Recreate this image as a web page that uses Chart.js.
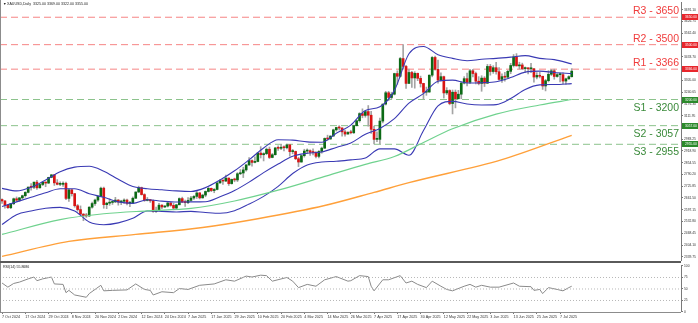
<!DOCTYPE html>
<html>
<head>
<meta charset="utf-8">
<script src="https://cdn.jsdelivr.net/npm/chart.js@4"></script>
<style>
  html, body { margin: 0; padding: 0; background: #fff; }
  #wrap { position: relative; width: 698px; height: 323px; }
  #main { position: absolute; left: 0; top: 0; }
  #rsi { position: absolute; left: 0; top: 263px; }
</style>
</head>
<body>
<div id="wrap">
  <canvas id="main" width="698" height="263"></canvas>
  <canvas id="rsi" width="698" height="60"></canvas>
</div>
<script>
// daily candles, bar 0 = 7 Oct 2024
const opens = [
  2653,2645,2622,2608,2630, 2657,2649,2662,2674,2692, 2721,2720,2748,2717,2735, 2747,2743,2774,2788,2744,
  2736,2736,2742,2659,2706, 2685,2619,2598,2573,2565, 2563,2611,2631,2650,2670, 2715,2625,2633,2637,2640,
  2650,2639,2643,2650,2632, 2633,2660,2694,2718,2680, 2648,2652,2646,2587,2594, 2622,2612,2617,2634, 2621,2606,2624,2658,
  2639,2636,2648,2661,2670, 2689,2662,2677,2697,2714, 2702,2708,2744,2755,2754, 2770,2740,2763,2760,2794,
  2798,2815,2842,2866,2856, 2861,2907,2898,2904,2928, 2883,2898,2935,2933,2939, 2936,2952,2915,2916,2876,
  2858,2893,2918,2920,2911, 2910,2889,2916,2934,2987, 2984,3000,3034,3047,3044, 3023,3011,3020,3018,3057,
  3084,3123,3113,3134,3114, 3037,2982,2982,3082,3175, 3237,3211,3229,3342, 3327,3424,3381,3288,3348,
  3318,3343,3316,3288,3240, 3241,3333,3430,3365,3306, 3325,3236,3249,3178,3240, 3204,3229,3290,3314,3294,
  3357,3342,3300,3288,3317, 3289,3381,3353,3374,3352, 3310,3325,3322,3354,3386, 3433,3384,3389,3369,3369,
  3368,3368,3323,3332,3327, 3274,3303,3338,3357,3326, 3336,3336,3301,3313,3325
];
const highs = [
  2657,2648,2625,2632,2661, 2667,2664,2677,2696,2721, 2740,2749,2758,2738,2748, 2749,2775,2790,2790,2762,
  2750,2750,2749,2711,2709, 2687,2626,2618,2576,2577, 2614,2639,2656,2674,2721, 2721,2638,2657,2643,2665,
  2653,2649,2657,2656,2643, 2667,2695,2726,2721,2685, 2664,2654,2651,2612,2632, 2625,2620,2638,2637, 2632,2627,2662,2666,
  2650,2664,2670,2674,2697, 2692,2682,2700,2724,2716, 2713,2746,2763,2759,2786, 2772,2765,2770,2800,2817,
  2830,2845,2882,2870,2886, 2911,2942,2909,2935,2940, 2905,2938,2946,2955,2947, 2956,2953,2927,2918,2884,
  2895,2928,2930,2925,2930, 2915,2921,2940,2990,3005, 3002,3038,3048,3057,3047, 3033,3024,3032,3060,3087,
  3128,3149,3136,3167,3136, 3055,3023,3099,3175,3245, 3245,3240,3344,3357, 3430,3500,3387,3367,3354,
  3352,3345,3328,3289,3268, 3335,3435,3438,3415,3346, 3328,3265,3253,3252,3252, 3250,3296,3325,3345,3365,
  3365,3350,3325,3330,3325, 3392,3392,3385,3403,3375, 3340,3349,3360,3398,3446, 3451,3404,3399,3378,3373,
  3398,3370,3347,3350,3328, 3310,3358,3365,3366,3342, 3345,3346,3317,3330,3369
];
const lows = [
  2632,2605,2604,2603,2625, 2642,2643,2656,2666,2689, 2704,2712,2708,2715,2729, 2723,2740,2772,2730,2733,
  2729,2725,2652,2643,2672, 2611,2589,2570,2537,2555, 2560,2605,2621,2643,2668, 2605,2603,2621,2626,2636,
  2622,2625,2632,2623,2614, 2630,2658,2691,2677,2643, 2645,2637,2583,2583,2592, 2603,2609,2612,2616, 2597,2603,2624,2636,
  2615,2630,2644,2654,2659, 2656,2660,2668,2694,2696, 2690,2706,2741,2736,2750, 2730,2737,2750,2751,2789,
  2773,2808,2839,2835,2853, 2859,2880,2864,2898,2877, 2881,2896,2922,2925,2919, 2930,2890,2903,2871,2833,
  2857,2885,2905,2894,2897, 2880,2881,2906,2931,2977, 2982,2999,3027,3033,2999, 3000,3010,3012,3014,3055,
  3076,3100,3103,3054,3015, 2957,2970,2957,3072,3170, 3194,3203,3225,3283, 3322,3366,3260,3287,3266,
  3262,3303,3268,3202,3223, 3239,3324,3360,3289,3300, 3208,3227,3171,3121,3154, 3203,3204,3285,3275,3287,
  3324,3285,3280,3245,3271, 3287,3333,3343,3339,3306, 3293,3300,3320,3341,3378, 3383,3367,3363,3348,3340,
  3347,3295,3312,3318,3255, 3247,3296,3331,3311,3322, 3296,3287,3283,3310,3322
];
const closes = [
  2645,2622,2608,2630,2657, 2649,2662,2674,2692,2721, 2720,2748,2717,2735,2747, 2743,2774,2788,2744,2736,
  2736,2742,2659,2706,2685, 2619,2598,2573,2565,2563, 2611,2631,2650,2670,2715, 2625,2633,2637,2640,2650,
  2639,2643,2650,2632,2633, 2660,2694,2718,2680,2648, 2652,2646,2587,2594,2622, 2612,2617,2634,2621, 2606,2624,2658,2639,
  2636,2648,2661,2670,2689, 2662,2677,2697,2714,2702, 2708,2744,2755,2754,2770, 2740,2763,2760,2794,2798,
  2815,2842,2866,2856,2861, 2907,2898,2904,2928,2883, 2898,2935,2933,2939,2936, 2952,2915,2916,2876,2858,
  2893,2918,2920,2911,2910, 2889,2916,2934,2987,2984, 3000,3034,3047,3044,3023, 3011,3020,3018,3057,3084,
  3123,3113,3134,3114,3037, 2982,2982,3082,3175,3237, 3211,3229,3342,3327, 3424,3381,3288,3348,3318,
  3343,3316,3288,3240,3241, 3333,3430,3365,3306,3325, 3236,3249,3178,3240,3204, 3229,3290,3314,3294,3357,
  3342,3300,3288,3317,3289, 3381,3353,3374,3352,3310, 3325,3322,3354,3386,3433, 3384,3389,3369,3369,3368,
  3368,3323,3332,3327,3274, 3303,3338,3357,3326,3336, 3336,3301,3313,3325,3355
];

// bollinger bands (20,2) read at every 5th bar
const bbIdx = [0,5,10,15,20,25,30,35,40,45,50,55,60,65,70,75,80,85,90,95,100,105,110,115,120,125,130,135,140,145,150,155,160,165,170,175,180,185,190,196];
const bbUpper = [2714,2700,2720,2760,2805,2830,2835,2808,2764,2724,2712,2706,2700,2697,2718,2760,2810,2870,2935,2980,2978,2968,2966,3015,3060,3140,3160,3250,3450,3490,3445,3425,3412,3420,3425,3432,3440,3425,3418,3395];
const bbMiddle = [2615,2640,2665,2690,2712,2712,2685,2665,2640,2632,2652,2644,2639,2640,2641,2668,2702,2748,2800,2847,2890,2906,2913,2938,2962,3010,3042,3095,3180,3232,3300,3306,3290,3292,3297,3320,3350,3355,3348,3342];
const bbLower = [2516,2570,2590,2605,2610,2590,2530,2515,2525,2550,2590,2588,2585,2588,2582,2578,2592,2628,2670,2725,2795,2842,2858,2862,2870,2880,2930,2930,2895,3030,3165,3190,3175,3170,3172,3205,3255,3280,3282,3287];

// moving averages 100 (green) and 200 (orange)
const ma100Idx = [0,20,35,50,65,80,95,110,125,135,145,155,170,185,196];
const ma100 = [2462,2543,2575,2591,2604,2645,2704,2774,2845,2888,2965,3040,3120,3170,3200];
const ma200Idx = [0,23,46,69,88,111,128,140,172,196];
const ma200 = [2342,2424,2462,2500,2548,2620,2692,2745,2871,3004];

// RSI(14)
const rsiIdx = [0,2,4,6,9,11,12,14,17,18,21,22,23,25,29,30,34,35,38,43,46,49,51,52,55,59,61,64,68,73,77,80,84,86,89,91,93,98,100,102,105,108,111,115,119,120,123,126,127,128,131,133,137,139,141,143,146,148,151,153,155,159,161,163,165,168,171,176,178,182,183,185,186,188,191,193,195,196];
const rsiVal = [63,54,62,65,72,76,68,72,76,61,60,42,47,37,32,40,58,46,47,48,61,49,47,37,44,42,51,49,58,61,70,67,78,76,80,79,67,75,67,53,60,56,70,77,67,68,79,77,56,46,70,70,79,63,67,60,53,67,56,49,46,56,60,54,58,54,54,63,56,55,47,49,40,53,49,46,53,56];

// support / resistance
const levelNames = ['R3','R2','R1','S1','S2','S3'];
const levelValues = [3650,3500,3366,3200,3057,2955];

const dateTicks = ['7 Oct 2024','17 Oct 2024','29 Oct 2024','8 Nov 2024','20 Nov 2024','2 Dec 2024','12 Dec 2024',
  '24 Dec 2024','7 Jan 2025','17 Jan 2025','29 Jan 2025','10 Feb 2025','20 Feb 2025','4 Mar 2025','14 Mar 2025',
  '26 Mar 2025','7 Apr 2025','17 Apr 2025','30 Apr 2025','12 May 2025','22 May 2025','3 Jun 2025','13 Jun 2025',
  '25 Jun 2025','7 Jul 2025'];
const priceTicks = [2339.75,2404.10,2468.45,2532.80,2597.15,2661.50,2725.85,2790.20,2854.55,2918.90,2983.25,
  3047.60,3111.95,3176.30,3240.65,3305.00,3369.35,3433.70,3498.05,3562.40,3626.75,3691.10];
const rsiTicks = [0,25,50,75,100];
const rsiLevels = [25,50,75];

const X_MIN = -0.7, X_MAX = 233.6;
const FONT = "'Liberation Sans', Arial, sans-serif";
Chart.defaults.font.family = FONT;

const pts = (xs, ys) => xs.map((x, k) => ({x: x, y: ys[k]}));
const bodies = opens.map((o, i) => ({x: i, y: [o, closes[i]]}));
const wicks = opens.map((o, i) => ({x: i, y: [lows[i], highs[i]]}));
const bodyColors = opens.map((o, i) => closes[i] >= o ? '#0c6a16' : '#d81414');

const levelSets = levelValues.map((v, k) => ({
  type: 'line',
  data: [{x: X_MIN, y: v}, {x: X_MAX, y: v}],
  borderColor: levelNames[k][0] === 'R' ? 'rgba(245,110,110,0.85)' : 'rgba(120,185,120,0.85)',
  borderWidth: 1,
  borderDash: [7, 4],
  pointRadius: 0,
  order: 5
}));

const line = (data, color, width) => ({
  type: 'line', data: data, borderColor: color, borderWidth: width,
  pointRadius: 0, cubicInterpolationMode: 'monotone', order: 0
});

const mainDecor = {
  id: 'mainDecor',
  afterDraw(chart) {
    const ctx = chart.ctx;
    const y = chart.scales.y;
    const area = chart.chartArea;
    ctx.save();
    // frame
    ctx.strokeStyle = '#8c8c8c';
    ctx.lineWidth = 1;
    ctx.beginPath();
    ctx.moveTo(0.5, 0); ctx.lineTo(0.5, 263);
    ctx.stroke();
    ctx.strokeStyle = '#5a5a5a';
    ctx.lineWidth = 2;
    ctx.beginPath();
    ctx.moveTo(0, 262); ctx.lineTo(area.right, 262);
    ctx.stroke();
    // level labels and axis tags
    levelValues.forEach((v, k) => {
      const py = Math.round(y.getPixelForValue(v));
      const res = levelNames[k][0] === 'R';
      ctx.font = "10.5px " + FONT;
      ctx.fillStyle = res ? '#f03c3c' : '#3a8a3a';
      ctx.textAlign = 'right';
      if (res) {
        ctx.textBaseline = 'alphabetic';
        ctx.fillText(levelNames[k] + ' - ' + v, area.right - 2, py - 3.5);
      } else {
        ctx.textBaseline = 'top';
        ctx.fillText(levelNames[k] + ' - ' + v, area.right - 2, py + 3);
      }
      ctx.fillStyle = res ? '#e8262c' : '#2c8a2c';
      ctx.fillRect(area.right + 1, py - 3, 16, 6);
      ctx.fillStyle = '#fff';
      ctx.font = "3.3px " + FONT;
      ctx.textAlign = 'left';
      ctx.textBaseline = 'middle';
      ctx.fillText(v.toFixed(2), area.right + 4, py);
    });
    // title
    const n = closes.length - 1;
    ctx.fillStyle = '#222';
    ctx.font = "3.6px " + FONT;
    ctx.textAlign = 'left';
    ctx.textBaseline = 'middle';
    ctx.fillText('\u25BC', 3, 4);
    ctx.fillText('XAUUSD,Daily  ' + [opens[n], highs[n], lows[n], closes[n]].map(v => v.toFixed(2)).join(' '), 7, 4);
    ctx.restore();
  }
};

new Chart(document.getElementById('main'), {
  type: 'bar',
  data: {
    datasets: [
      ...levelSets,
      line(pts(ma200Idx, ma200), '#ffa03a', 1.4),
      line(pts(ma100Idx, ma100), '#6fd28e', 1.2),
      line(pts(bbIdx, bbUpper), '#3a3ab4', 1.1),
      line(pts(bbIdx, bbMiddle), '#3a3ab4', 1.1),
      line(pts(bbIdx, bbLower), '#3a3ab4', 1.1),
      { type: 'bar', data: wicks, backgroundColor: '#a4a4a4', barThickness: 1, grouped: false, order: 3 },
      { type: 'bar', data: bodies, backgroundColor: bodyColors, barThickness: 2, grouped: false, minBarLength: 1, order: 2 }
    ]
  },
  options: {
    responsive: false,
    animation: false,
    devicePixelRatio: 1,
    layout: { padding: { top: 1, bottom: 1, left: 0, right: 0 } },
    plugins: { legend: { display: false }, tooltip: { enabled: false } },
    scales: {
      x: { type: 'linear', min: X_MIN, max: X_MAX, offset: false, display: false },
      y: {
        position: 'right', min: 2322, max: 3728,
        afterBuildTicks: s => { s.ticks = priceTicks.map(v => ({value: v})); },
        afterFit: s => { s.width = 17; },
        grid: { drawOnChartArea: false, drawTicks: true, tickLength: 2, color: '#777' },
        border: { color: '#7a7a7a' },
        ticks: { font: { size: 3.3 }, color: '#333', padding: 1, callback: v => v.toFixed(2) }
      }
    }
  },
  plugins: [mainDecor]
});

const rsiDecor = {
  id: 'rsiDecor',
  afterDraw(chart) {
    const ctx = chart.ctx;
    const area = chart.chartArea;
    ctx.save();
    ctx.strokeStyle = '#8c8c8c';
    ctx.lineWidth = 1;
    ctx.beginPath();
    ctx.moveTo(0.5, 0); ctx.lineTo(0.5, area.bottom);
    ctx.moveTo(0, area.bottom + 0.5); ctx.lineTo(area.right, area.bottom + 0.5);
    ctx.stroke();
    ctx.fillStyle = '#222';
    ctx.font = "3.6px " + FONT;
    ctx.textAlign = 'left';
    ctx.textBaseline = 'middle';
    ctx.fillText('RSI(14) 55.8686', 3, 4);
    ctx.restore();
  }
};

new Chart(document.getElementById('rsi'), {
  type: 'line',
  data: {
    datasets: [
      ...rsiLevels.map(v => ({
        data: [{x: X_MIN, y: v}, {x: X_MAX, y: v}],
        borderColor: '#b8b8b8', borderWidth: 1, borderDash: [1, 2], pointRadius: 0
      })),
      { data: pts(rsiIdx, rsiVal), borderColor: '#8a8a8a', borderWidth: 1, pointRadius: 0 }
    ]
  },
  options: {
    responsive: false,
    animation: false,
    devicePixelRatio: 1,
    layout: { padding: { top: 1, bottom: 0, left: 0, right: 0 } },
    plugins: { legend: { display: false }, tooltip: { enabled: false } },
    scales: {
      x: {
        type: 'linear', min: X_MIN, max: X_MAX, offset: false,
        afterBuildTicks: s => { s.ticks = dateTicks.map((d, k) => ({value: k * 8})); },
        afterFit: s => { s.height = 11; },
        grid: { drawOnChartArea: false, drawTicks: true, tickLength: 2, color: '#777' },
        border: { display: false },
        ticks: { font: { size: 3.7 }, color: '#333', padding: 1, align: 'start', maxRotation: 0, autoSkip: false,
          callback: v => dateTicks[Math.round(v / 8)] }
      },
      y: {
        position: 'right', min: 0, max: 100,
        afterBuildTicks: s => { s.ticks = rsiTicks.map(v => ({value: v})); },
        afterFit: s => { s.width = 17; },
        grid: { drawOnChartArea: false, drawTicks: true, tickLength: 2, color: '#777' },
        border: { color: '#7a7a7a' },
        ticks: { font: { size: 3.3 }, color: '#333', padding: 1 }
      }
    }
  },
  plugins: [rsiDecor]
});
</script>
</body>
</html>
